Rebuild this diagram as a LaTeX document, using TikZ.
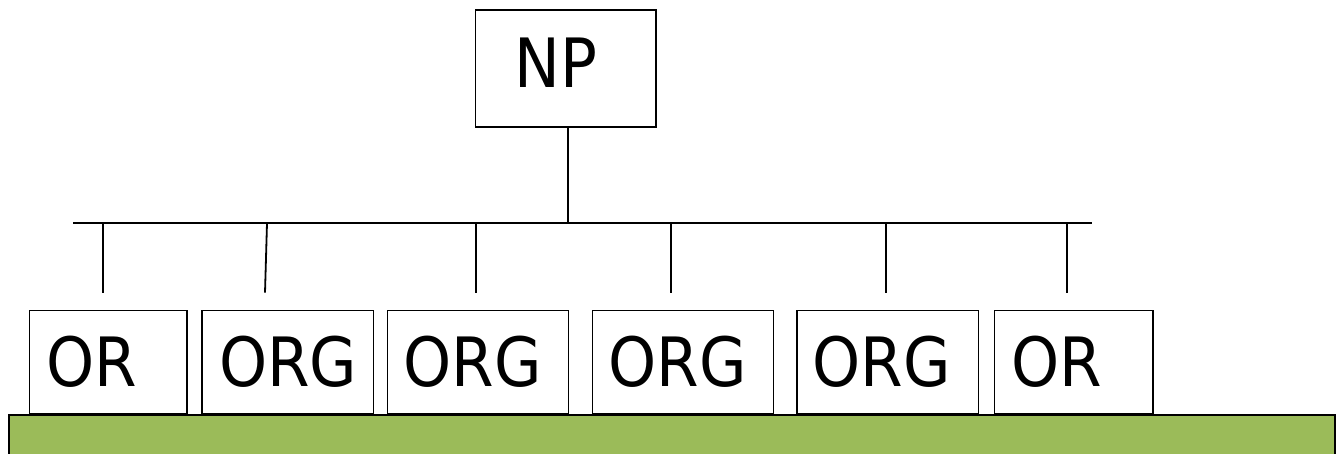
\documentclass[tikz,border=0pt]{standalone}
\usepackage{fontspec}
\setmainfont{DejaVu Sans Condensed}
\definecolor{leafgreen}{HTML}{9BBB59}
\begin{document}
\begin{tikzpicture}[x=1pt,y=-1pt,
  box/.style={draw=black,line width=1.3pt,fill=white,inner sep=0pt,outer sep=0pt},
  lbl/.style={inner sep=0pt,anchor=base west,font=\fontsize{68}{72}\selectfont},
  wire/.style={draw=black,line width=1.8pt}]
\useasboundingbox (0,0) rectangle (1338,453);

% ground strip
\path[fill=leafgreen,draw=black,line width=2.2pt] (8.7,415) rectangle (1335,470);

% root
\node[box,minimum width=180.3pt,minimum height=117pt] (np) at (565.85,68.5) {};
\node[lbl] (npt) at (514.5,87) {NP};

% children
\node[box,minimum width=157.7pt,minimum height=102.6pt] (b1) at (108.15,362) {};
\node[box,minimum width=171.3pt,minimum height=102.6pt] (b2) at (287.65,362) {};
\node[box,minimum width=181pt,minimum height=102.6pt] (b3) at (477.8,362) {};
\node[box,minimum width=181pt,minimum height=102.6pt] (b4) at (682.8,362) {};
\node[box,minimum width=181.3pt,minimum height=102.6pt] (b5) at (887.65,362) {};
\node[box,minimum width=158.3pt,minimum height=102.6pt] (b6) at (1073.85,362) {};

\node[lbl] (t1) at (46.3,386.7) {OR};
\node[lbl] (t2) at (219,386.7) {ORG};
\node[lbl] (t3) at (403.3,386.7) {ORG};
\node[lbl] (t4) at (608.3,386.7) {ORG};
\node[lbl] (t5) at (812.3,386.7) {ORG};
\node[lbl] (t6) at (1011.3,386.7) {OR};

% bus
\coordinate (busl) at (73,223.3);
\coordinate (busr) at (1091.7,223.3);
\coordinate (busm) at (567.7,223.3);
\draw[wire] (busl) -- (busr);
\draw[wire] (np.south -| busm) -- (busm);

% drops
\coordinate (d1a) at (102.7,223.3);  \coordinate (d1b) at (102.7,292.7);
\coordinate (d2a) at (267,223.3);    \coordinate (d2b) at (265,292.7);
\coordinate (d3a) at (476,223.3);    \coordinate (d3b) at (476,292.7);
\coordinate (d4a) at (671.3,223.3);  \coordinate (d4b) at (671.3,292.7);
\coordinate (d5a) at (885.7,223.3);  \coordinate (d5b) at (885.7,292.7);
\coordinate (d6a) at (1067.3,223.3); \coordinate (d6b) at (1067.3,292.7);
\foreach \i in {1,...,6} \draw[wire] (d\i a) -- (d\i b);
\end{tikzpicture}
\end{document}
